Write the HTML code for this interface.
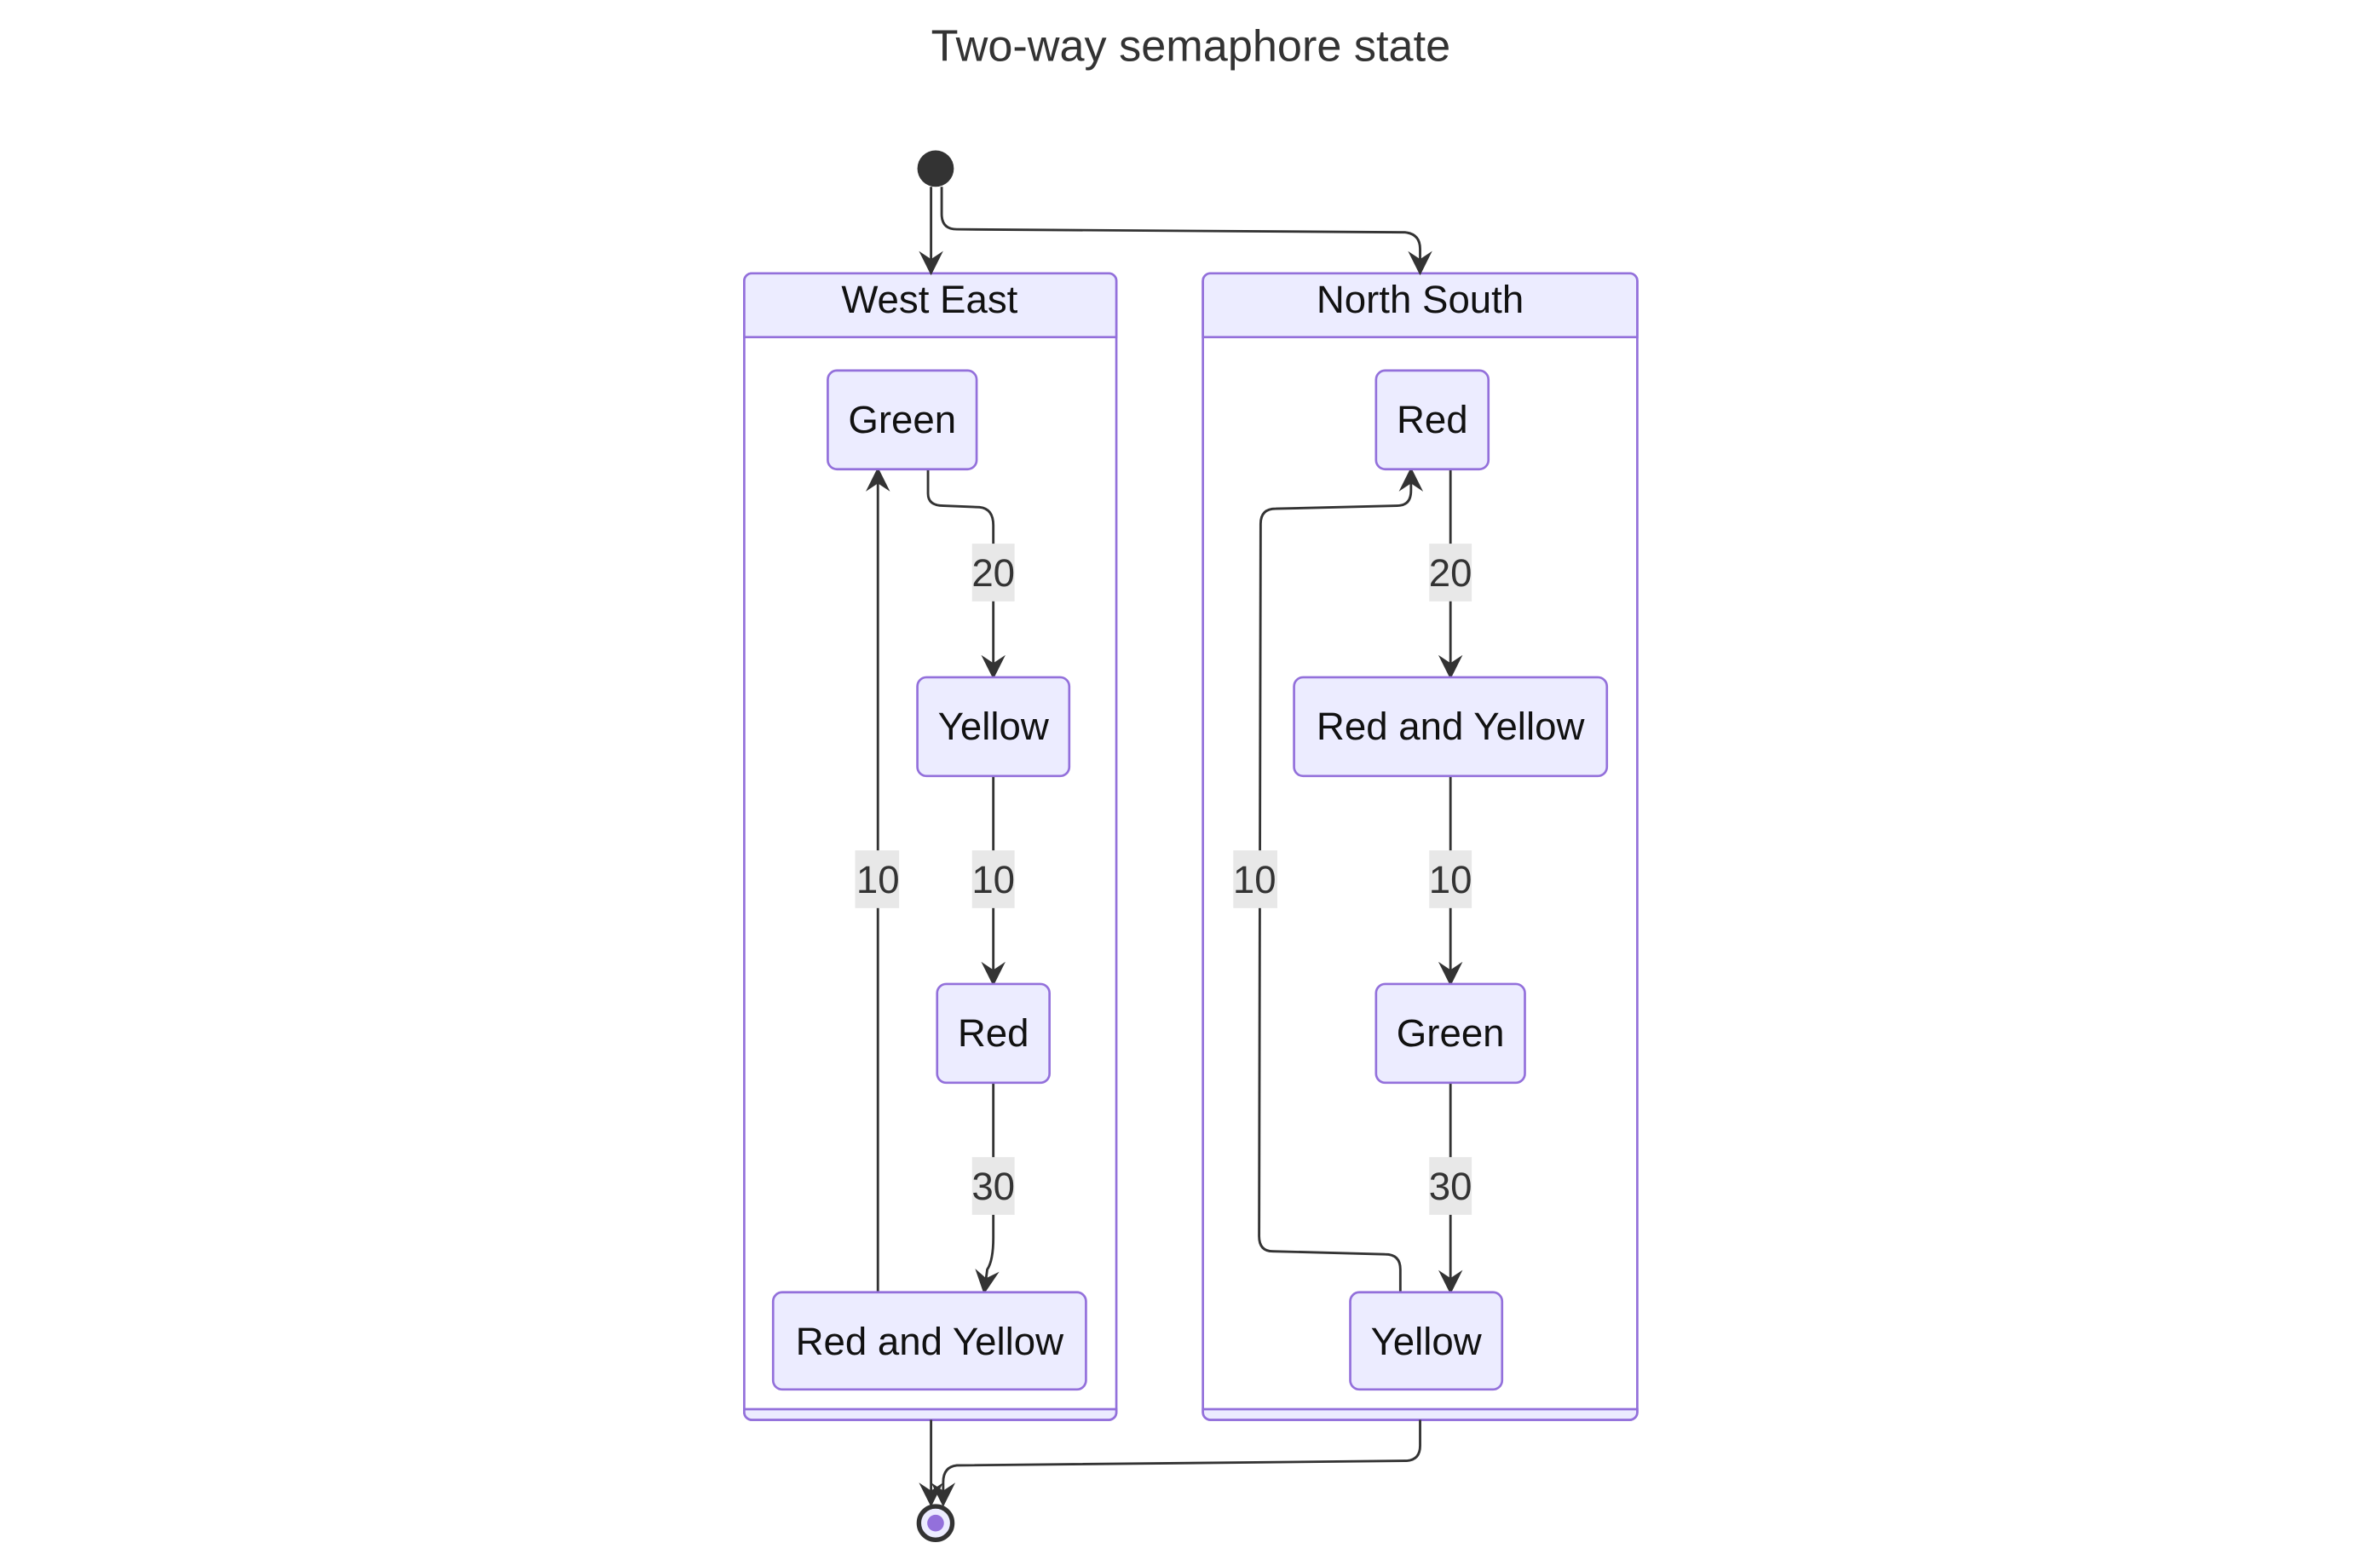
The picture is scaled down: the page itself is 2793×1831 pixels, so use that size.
<!DOCTYPE html>
<html><head><meta charset="utf-8"><style>
html,body{margin:0;padding:0;background:#fff;}
svg{display:block;}
text{font-family:"Liberation Sans",Arial,sans-serif;}
</style></head><body>
<svg width="2793" height="1831" viewBox="0 0 1567 1027.3" xmlns="http://www.w3.org/2000/svg">
<defs>
<marker id="a" viewBox="0 0 12 12" refX="11" refY="6" markerWidth="16" markerHeight="16" markerUnits="userSpaceOnUse" orient="auto">
<path d="M0,0 L12,6 L0,12 L4,6 z" fill="#333"/>
</marker>
</defs>
<rect width="1567" height="1028" fill="#fff"/>
<text x="784" y="40" font-size="29.3" fill="#333" text-anchor="middle">Two-way semaphore state</text>

<g stroke="#9370DB" stroke-width="1.5">
<rect x="490" y="180" width="245" height="755" rx="5" fill="#fff"/>
<path d="M490,222 V185 a5,5 0 0 1 5,-5 H730 a5,5 0 0 1 5,5 V222 Z" fill="#ECECFF"/>
<path d="M490,928 H735 V930 a5,5 0 0 1 -5,5 H495 a5,5 0 0 1 -5,-5 Z" fill="#ECECFF"/>
<rect x="792" y="180" width="286" height="755" rx="5" fill="#fff"/>
<path d="M792,222 V185 a5,5 0 0 1 5,-5 H1073 a5,5 0 0 1 5,5 V222 Z" fill="#ECECFF"/>
<path d="M792,928 H1078 V930 a5,5 0 0 1 -5,5 H797 a5,5 0 0 1 -5,-5 Z" fill="#ECECFF"/>
</g>
<g font-size="25.6" fill="#111" text-anchor="middle">
<text x="612" y="206">West East</text>
<text x="935" y="206">North South</text>
</g>

<g fill="none" stroke="#333" stroke-width="1.6" marker-end="url(#a)">
<path d="M613,123 V180"/>
<path d="M620,123 V141 Q620,151 630,151 L925,153 Q935,154 935,164 V180"/>
<path d="M611,309 V325 Q611,333 621,333 L645,334 Q654,335 654,346 V446"/>
<path d="M654,511 V648"/>
<path d="M654,713 V815 Q654,830 650,836 L648,851"/>
<path d="M578,851 V309"/>
<path d="M955,309 V446"/>
<path d="M955,511 V648"/>
<path d="M955,713 V851"/>
<path d="M922,851 V836 Q922,826 912,826 L838,824 Q829,824 829,814 L830,345 Q830,335 840,335 L920,333 Q929,333 929,323 V309"/>
<path d="M613,935 V991"/>
<path d="M935,935 V952 Q935,962 925,962 L630,965 Q621,966 621,976 V991"/>
</g>

<g fill="#e8e8e8">
<rect x="640" y="358" width="28" height="38"/>
<rect x="640" y="560" width="28" height="38"/>
<rect x="640" y="762" width="28" height="38"/>
<rect x="563" y="560" width="29" height="38"/>
<rect x="941" y="358" width="28" height="38"/>
<rect x="941" y="560" width="28" height="38"/>
<rect x="941" y="762" width="28" height="38"/>
<rect x="812" y="560" width="29" height="38"/>
</g>
<g font-size="25.6" fill="#333" text-anchor="middle">
<text x="654" y="386">20</text>
<text x="654" y="588">10</text>
<text x="654" y="790">30</text>
<text x="578" y="588">10</text>
<text x="955" y="386">20</text>
<text x="955" y="588">10</text>
<text x="955" y="790">30</text>
<text x="826" y="588">10</text>
</g>

<g fill="#ECECFF" stroke="#9370DB" stroke-width="1.5">
<rect x="545" y="244" width="98" height="65" rx="6"/>
<rect x="604" y="446" width="100" height="65" rx="6"/>
<rect x="617" y="648" width="74" height="65" rx="6"/>
<rect x="509" y="851" width="206" height="64" rx="6"/>
<rect x="906" y="244" width="74" height="65" rx="6"/>
<rect x="852" y="446" width="206" height="65" rx="6"/>
<rect x="906" y="648" width="98" height="65" rx="6"/>
<rect x="889" y="851" width="100" height="64" rx="6"/>
</g>
<g font-size="25.6" fill="#111" text-anchor="middle">
<text x="594" y="285">Green</text>
<text x="654" y="487">Yellow</text>
<text x="654" y="689">Red</text>
<text x="612" y="892">Red and Yellow</text>
<text x="943" y="285">Red</text>
<text x="955" y="487">Red and Yellow</text>
<text x="955" y="689">Green</text>
<text x="939" y="892">Yellow</text>
</g>

<circle cx="616" cy="111" r="12" fill="#333"/>
<circle cx="616" cy="1003" r="11" fill="#ECECFF" stroke="#333" stroke-width="3"/>
<circle cx="616" cy="1003" r="5.5" fill="#9370DB"/>
</svg>
</body></html>
